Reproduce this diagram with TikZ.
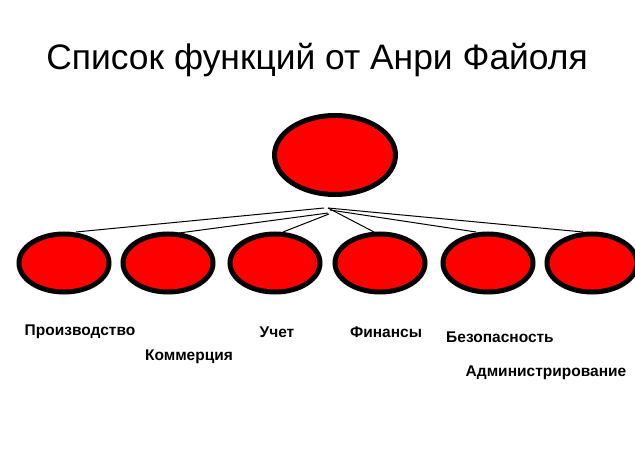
\documentclass[tikz,border=0pt]{standalone}
\usepackage{fontspec}
\setmainfont{Liberation Sans}
\usetikzlibrary{shapes.geometric}
\begin{document}
\begin{tikzpicture}[x=1pt,y=-1pt,
  bubble/.style={ellipse,draw=black,fill=red,line width=5pt,inner sep=0pt},
  topbubble/.style={bubble,minimum width=121pt,minimum height=79pt},
  lowbubble/.style={bubble,minimum width=90pt,minimum height=58pt},
  conn/.style={draw=black,line width=1pt},
  lbl/.style={font=\bfseries\fontsize{15.5}{18}\selectfont,inner sep=0pt}]
\useasboundingbox (0,0) rectangle (635,476);
\node[font=\fontsize{35.4}{40}\selectfont,inner sep=0pt] (title) at (317,60) {Список функций от Анри Файоля};
\node[topbubble] (top) at (335,155) {};
\node[lowbubble] (b1) at (64,263) {};
\node[lowbubble] (b2) at (168,263) {};
\node[lowbubble] (b3) at (275,263) {};
\node[lowbubble] (b4) at (380,263) {};
\node[lowbubble] (b5) at (488,263) {};
\node[lowbubble] (b6) at (592,263) {};
\coordinate (h1) at (324,208);
\coordinate (h2) at (328,213);
\coordinate (h3) at (329,214);
\coordinate (h4) at (328,208);
\coordinate (h5) at (330,210);
\coordinate (h6) at (328,208);
\coordinate (e1) at (76,232);
\coordinate (e2) at (179,233);
\coordinate (e3) at (283,232);
\coordinate (e4) at (374,232);
\coordinate (e5) at (476,232);
\coordinate (e6) at (583,232);
\draw[conn] (h1) -- (e1);
\draw[conn] (h2) -- (e2);
\draw[conn] (h3) -- (e3);
\draw[conn] (h4) -- (e4);
\draw[conn] (h5) -- (e5);
\draw[conn] (h6) -- (e6);
\node[lbl] (l1) at (80,332) {Производство};
\node[lbl] (l2) at (189,357) {Коммерция};
\node[lbl] (l3) at (277,332) {Учет};
\node[lbl] (l4) at (386,332) {Финансы};
\node[lbl] (l5) at (500,337) {Безопасность};
\node[lbl] (l6) at (546,373) {Администрирование};
\end{tikzpicture}
\end{document}
